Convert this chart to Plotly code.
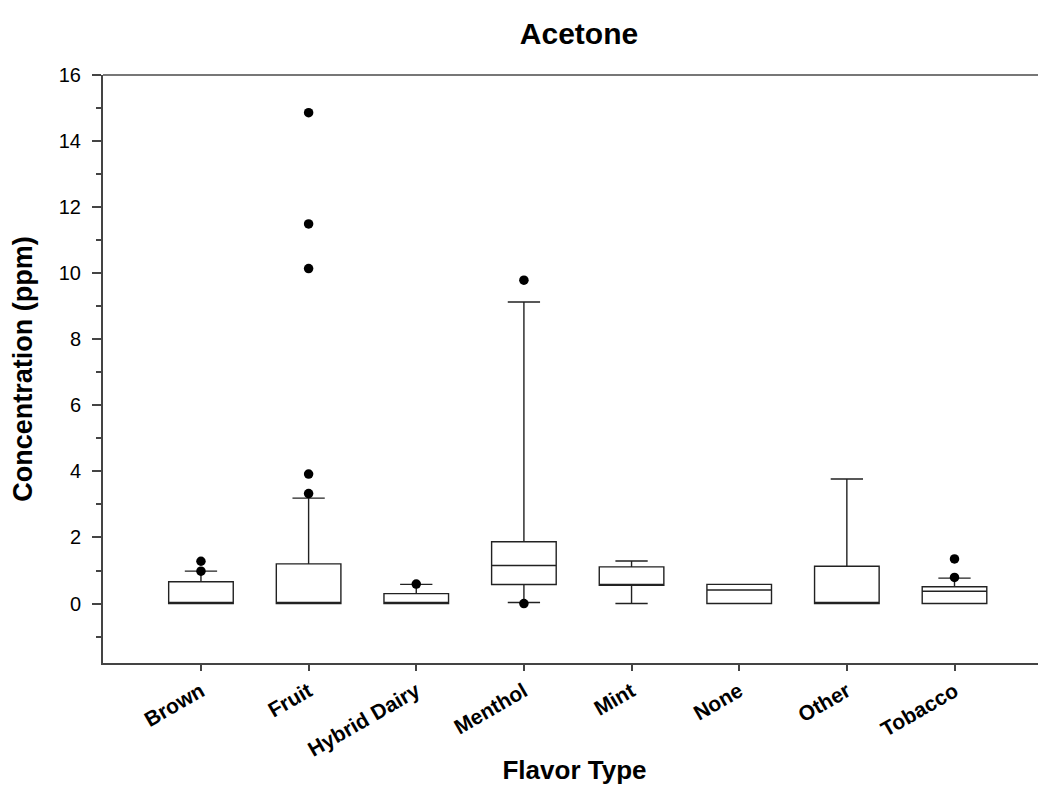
import plotly.graph_objects as go

categories = ["Brown", "Fruit", "Hybrid Dairy", "Menthol", "Mint", "None", "Other", "Tobacco"]
q1_vals = [0.0, 0.0, 0.0, 0.575, 0.55, 0.0, 0.0, 0.0]
median_vals = [0.0, 0.0, 0.0, 1.15, 0.57, 0.41, 0.0, 0.37]
q3_vals = [0.66, 1.2, 0.30, 1.87, 1.11, 0.58, 1.13, 0.51]
lower_fence = [0.0, 0.0, 0.0, 0.03, 0.0, 0.0, 0.0, 0.0]
upper_fence = [0.98, 3.19, 0.58, 9.13, 1.29, 0.58, 3.77, 0.77]

outlier_cats = ["Brown", "Brown", "Fruit", "Fruit", "Fruit", "Fruit", "Fruit",
                "Hybrid Dairy", "Menthol", "Menthol", "Tobacco", "Tobacco"]
outlier_vals = [0.98, 1.28, 3.33, 3.92, 10.14, 11.49, 14.86,
                0.59, 9.79, 0.0, 0.79, 1.35]

y_tick_vals = [0, 2, 4, 6, 8, 10, 12, 14, 16]

FONT = "Liberation Sans, Arial, sans-serif"

fig = go.Figure()
fig.add_trace(go.Box(
    x=categories, q1=q1_vals, median=median_vals, q3=q3_vals,
    lowerfence=lower_fence, upperfence=upper_fence,
    width=0.6, whiskerwidth=0.5,
    fillcolor="white", line=dict(color="#222222", width=1.4),
    boxpoints=False, showlegend=False, hoverinfo="y",
))
fig.add_trace(go.Scatter(
    x=outlier_cats, y=outlier_vals, mode="markers",
    marker=dict(color="black", size=9.5, symbol="circle"),
    showlegend=False,
))

fig.add_shape(type="line", xref="paper", yref="paper", x0=0, x1=1, y0=1, y1=1,
              line=dict(color="#777777", width=2))

fig.update_layout(
    width=1038, height=777,
    margin=dict(l=95, r=0, t=67, b=122),
    paper_bgcolor="white", plot_bgcolor="white",
    font=dict(family=FONT, color="black"),
    title=dict(text="<b>Acetone</b>", x=571 / 1038, xref="container", xanchor="center",
               y=1 - 25 / 777, yanchor="middle",
               font=dict(size=30, color="black", family=FONT)),
    xaxis=dict(
        type="category", categoryorder="array", categoryarray=categories,
        range=[-0.91, 7.85],
        showline=True, linecolor="#444444", linewidth=2,
        ticks="outside", ticklen=6, tickcolor="#444444", tickwidth=1.5,
        tickangle=-30, tickfont=dict(size=21, color="black", family=FONT, weight="bold"),
        showgrid=False, zeroline=False, automargin=False,
        title=dict(text="<b>Flavor Type</b>", font=dict(size=26, color="black", family=FONT), standoff=8),
    ),
    yaxis=dict(
        range=[-1.8, 16],
        tickvals=y_tick_vals,
        showline=True, linecolor="#444444", linewidth=2,
        ticks="outside", ticklen=9, tickcolor="#444444", tickwidth=1.5,
        minor=dict(ticks="outside", ticklen=5, tickcolor="#444444", tickwidth=1.5, dtick=1, tick0=1),
        tickfont=dict(size=20, color="black", family=FONT),
        ticklabelstandoff=7,
        showgrid=False, zeroline=False, automargin=False,
        title=dict(text="<b>Concentration (ppm)</b>", font=dict(size=27, color="black", family=FONT), standoff=24),
    ),
)

fig.write_html("out.html")
